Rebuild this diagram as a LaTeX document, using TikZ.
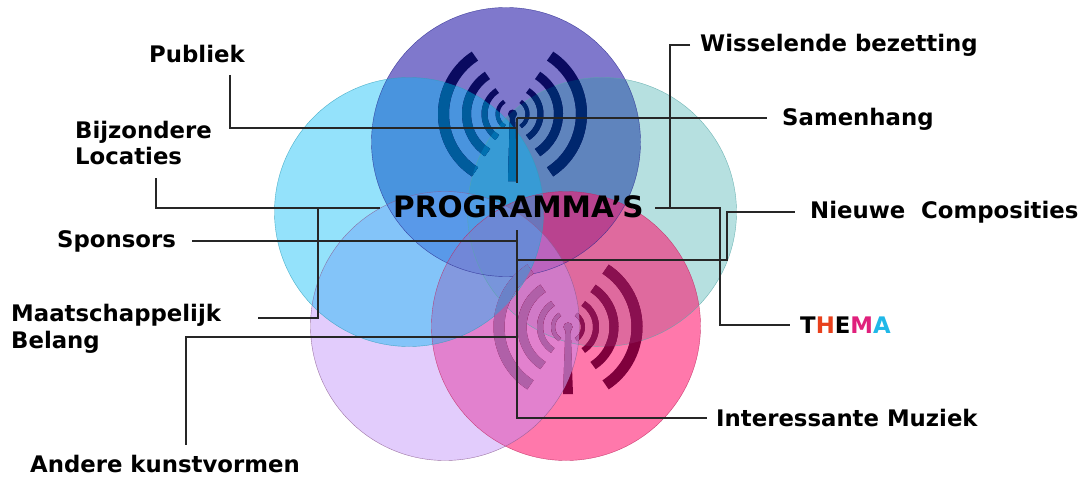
\documentclass[tikz,border=0pt]{standalone}
\usepackage{fontspec}
\setmainfont{DejaVu Sans}[BoldFont={DejaVu Sans Bold}]
\definecolor{cBlue}{HTML}{2B1EAA}
\definecolor{cCyan}{HTML}{00BBF7}
\definecolor{cTeal}{HTML}{1C9F9F}
\definecolor{cLilac}{HTML}{BF8EF9}
\definecolor{cPink}{HTML}{FF126D}
\definecolor{eBlue}{HTML}{2A2A90}
\definecolor{eCyan}{HTML}{2FA0BC}
\definecolor{eTeal}{HTML}{58A8A8}
\definecolor{eLilac}{HTML}{8A5A90}
\definecolor{ePink}{HTML}{C02860}
\newcommand{\wifi}[4]{%
 \begin{scope}[shift={(#1,#2)},x=1pt,y=1pt,color=#3]
 \foreach \r/\w in {69/11,46/9,28/6,15/4}{
  \draw[line width=\w pt] (57:\r) arc[start angle=57,end angle=-57,radius=\r pt];
  \draw[line width=\w pt] (123:\r) arc[start angle=123,end angle=237,radius=\r pt];
 }
 \fill (0,0) circle[radius=4.5pt];
 \fill (-2.5,0) -- (2.5,0) -- (#4,-67) -- (-#4,-67) -- cycle;
 \end{scope}}
\tikzset{
 disc/.style={fill=#1},
 lab/.style={font=\fontsize{22.8}{26.5}\selectfont\bfseries,text=black,inner sep=0pt,align=left},
 conn/.style={draw=black!85,line width=1.1pt}
}
\begin{document}
\begin{tikzpicture}[x=1pt,y=-1pt]
\useasboundingbox (0,0) rectangle (1083,476);
\fill[white] (0,0) rectangle (1083,476);
% circle centres
\coordinate (B) at (506,142);
\coordinate (C) at (409,212);
\coordinate (T) at (602,212);
\coordinate (L) at (445,326);
\coordinate (P) at (566,326);
\def\R{134.5pt}
\fill[disc=cBlue,fill opacity=.6] (B) circle[radius=\R];
\fill[disc=cTeal,fill opacity=.32] (T) circle[radius=\R];
\fill[disc=cPink,fill opacity=.57] (P) circle[radius=\R];
\fill[disc=cLilac,fill opacity=.45] (L) circle[radius=\R];
\fill[disc=cCyan,fill opacity=.42] (C) circle[radius=\R];
\draw[eTeal,opacity=.8] (T) circle[radius=\R];
\draw[eBlue,opacity=.8] (B) circle[radius=\R];
\draw[ePink,opacity=.8] (P) circle[radius=\R];
\draw[eLilac,opacity=.8] (L) circle[radius=\R];
\draw[eCyan,opacity=.8] (C) circle[radius=\R];
% top icon
\wifi{512.5}{114}{{rgb,255:red,10;green,10;blue,96}}{4.5}
\begin{scope}\clip (T) circle[radius=\R];
\wifi{512.5}{114}{{rgb,255:red,0;green,39;blue,110}}{4.5}
\end{scope}
\begin{scope}\clip (C) circle[radius=\R];
\wifi{512.5}{114}{{rgb,255:red,0;green,92;blue,156}}{4.5}
\end{scope}
\begin{scope}\clip (C) circle[radius=\R];\clip (T) circle[radius=\R];
\wifi{512.5}{114}{{rgb,255:red,0;green,112;blue,176}}{4.5}
\end{scope}
% bottom icon
\wifi{568}{327}{{rgb,255:red,128;green,0;blue,60}}{5}
\begin{scope}\clip (T) circle[radius=\R];
\wifi{568}{327}{{rgb,255:red,138;green,16;blue,80}}{5}
\end{scope}
\begin{scope}\clip (L) circle[radius=\R];
\wifi{568}{327}{{rgb,255:red,176;green,96;blue,168}}{5}
\end{scope}
\begin{scope}\clip (L) circle[radius=\R];\clip (C) circle[radius=\R];
\wifi{568}{327}{{rgb,255:red,106;green,130;blue,200}}{5}
\end{scope}
% labels
\node[lab,anchor=west] (pub) at (149,54) {Publiek};
\node[lab,anchor=west] (bij) at (75,143) {Bijzondere\\Locaties};
\node[lab,anchor=west] (spo) at (57,241) {Sponsors};
\node[lab,anchor=west] (maa) at (11,329) {Maatschappelijk\\Belang};
\node[lab,anchor=west] (and) at (30,464) {Andere kunstvormen};
\node[lab,anchor=west] (wis) at (700,45) {Wisselende bezetting};
\node[lab,anchor=west] (sam) at (782,119) {Samenhang};
\node[lab,anchor=west] (nie) at (810,212) {Nieuwe\ \ Composities};
\node[lab,anchor=west] (the) at (800,325) {T\textcolor[HTML]{E8401C}{H}E\textcolor[HTML]{E0207C}{M}\textcolor[HTML]{20B8E8}{A}};
\node[lab,anchor=west] (int) at (716,418) {Interessante Muziek};
\node[lab,anchor=west,font=\fontsize{29.5}{34}\selectfont\bfseries] (prg) at (393,207) {PROGRAMMA'S};
% connector coordinates
\coordinate (j1) at (517,128);
\coordinate (j2) at (517,118);
\coordinate (j3) at (517,183);
\coordinate (j4) at (517,230);
\coordinate (j5) at (517,418);
\coordinate (sEnd) at (192,241);
\coordinate (mEnd) at (258,318);
\coordinate (aTop) at (517,337);
% connectors
\draw[conn] (230,75) |- (j1);
\draw[conn] (j2) -- (j3);
\draw[conn] (j2) -- (767,118);
\draw[conn] (j4) -- (j5) -- (707,418);
\draw[conn] (sEnd) -- (517,241);
\draw[conn] (517,260) -- (727,260) -- (727,212) -- (795,212);
\draw[conn] (mEnd) -- (318,318) -- (318,208);
\draw[conn] (156,178) |- (380,208);
\draw[conn] (655,208) -- (720,208) -- (720,325) -- (790,325);
\draw[conn] (690,45) -- (670,45) -- (670,208);
\draw[conn] (aTop) -- (186,337) -- (186,445);
\end{tikzpicture}
\end{document}
